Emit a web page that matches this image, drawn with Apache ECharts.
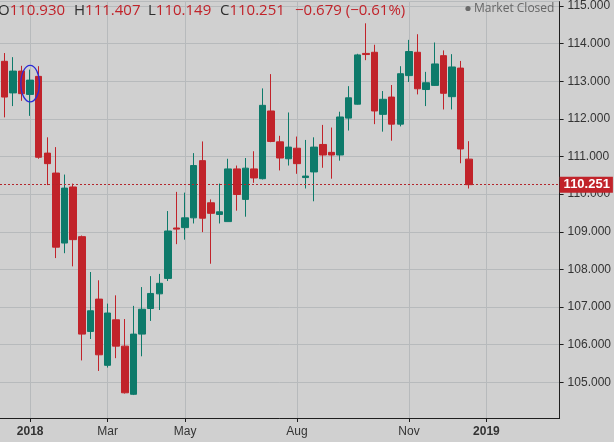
<!DOCTYPE html>
<html>
<head>
<meta charset="utf-8">
<title>USD/JPY weekly 2018</title>
<script src="https://cdn.jsdelivr.net/npm/echarts@6/dist/echarts.min.js"></script>
<style>
  html, body { margin: 0; padding: 0; background: #d0d0d0; }
  #chart { width: 614px; height: 442px; }
</style>
</head>
<body>
<div id="chart"></div>
<script>
// weekly bars, week start dates (Mon), a few empty weeks on the right
const firstWeek = Date.UTC(2017, 11, 11);
const weekCount = 65;
const weeks = [];
for (let k = 0; k < weekCount; k++) {
  weeks.push(new Date(firstWeek + k * 7 * 864e5).toISOString().slice(0, 10));
}

// OHLC, one entry per week from 2017-12-11
const opens = [
  113.53, 112.69, 113.27, 112.65, 113.13, 111.09, 110.56, 108.70, 110.19, 108.87,
  106.35, 107.21, 105.45, 106.66, 105.96, 104.68, 106.28, 106.96, 107.35, 107.76,
  109.10, 109.11, 109.37, 110.89, 109.77, 109.46, 109.27, 110.67, 109.86, 110.67,
  110.41, 112.21, 111.39, 110.94, 111.22, 110.44, 110.59, 111.32, 111.11, 111.04,
  112.02, 112.39, 113.74, 113.77, 112.12, 112.58, 111.86, 113.15, 113.77, 112.78,
  112.89, 113.68, 112.59, 113.35, 110.930
];
const closes = [
  112.58, 113.27, 112.67, 113.03, 110.98, 110.81, 108.59, 110.16, 108.79, 106.28,
  106.90, 105.73, 106.84, 105.96, 104.72, 106.28, 106.94, 107.36, 107.63, 109.02,
  109.07, 109.37, 110.76, 109.36, 109.49, 109.53, 110.67, 109.99, 110.69, 110.43,
  112.36, 111.40, 110.96, 111.25, 110.81, 110.48, 111.25, 111.04, 111.04, 112.05,
  112.56, 113.70, 113.71, 112.21, 112.52, 111.86, 113.20, 113.79, 112.80, 112.96,
  113.46, 112.68, 113.38, 111.20, 110.251
];
const lows = [
  112.04, 112.34, 112.48, 112.08, 110.94, 110.24, 108.30, 108.43, 108.08, 105.58,
  106.15, 105.30, 105.39, 105.64, 104.70, 104.66, 105.69, 106.63, 106.92, 107.69,
  108.67, 108.79, 109.22, 108.99, 108.15, 109.22, 109.27, 109.56, 109.40, 110.30,
  110.39, 111.38, 110.63, 110.76, 110.54, 110.15, 109.81, 110.70, 110.41, 110.89,
  111.69, 112.38, 113.56, 111.86, 111.66, 111.42, 111.80, 112.98, 112.65, 112.34,
  112.88, 112.25, 112.25, 110.82, 110.149
];
const highs = [
  113.75, 113.64, 113.41, 113.31, 113.40, 111.51, 111.25, 110.52, 110.28, 108.90,
  107.93, 107.71, 107.09, 107.31, 106.68, 107.03, 107.53, 107.82, 107.88, 109.55,
  110.06, 110.04, 111.09, 111.40, 109.86, 110.28, 110.94, 110.76, 110.96, 111.14,
  112.81, 113.19, 111.55, 112.17, 111.53, 111.44, 111.51, 111.84, 111.77, 112.19,
  112.87, 113.73, 114.54, 113.97, 112.74, 112.90, 113.40, 114.10, 114.25, 113.25,
  114.03, 113.82, 113.72, 113.54, 111.407
];

const lastPrice = 110.251;
const tickLabels = {
  '2018-01-01': '{y|2018}', '2018-03-05': 'Mar', '2018-05-07': 'May',
  '2018-08-06': 'Aug', '2018-11-05': 'Nov', '2019-01-07': '{y|2019}'
};
const header = [
  { k: 'O', v: '110.930' }, { k: 'H', v: '111.407' },
  { k: 'L', v: '110.149' }, { k: 'C', v: '110.251' },
  { k: '', v: '\u22120.679 (\u22120.61%)' }
];
const headerX = [-2, 74, 148, 220, 295];
// blue ring drawn round the first 2018 bar
const ring = { week: '2018-01-01', top: 113.42, bottom: 112.45, halfWidth: 9.3 };

const RED = '#c1232a', GREEN = '#0d7a6a', TEXT = '#333';
const FONT = '"Liberation Sans", Arial, sans-serif';

const bars = opens.map((o, i) => [o, closes[i], lows[i], highs[i]]);
const onTick = (idx, val) => tickLabels[val] !== undefined;

const chart = echarts.init(document.getElementById('chart'));

chart.setOption({
  animation: false,
  backgroundColor: '#d0d0d0',
  grid: { left: 0, right: 52, top: -2, bottom: 24 },
  xAxis: {
    type: 'category',
    data: weeks,
    boundaryGap: true,
    axisLine: { lineStyle: { color: '#1e1e1e', width: 1 } },
    axisTick: { show: true, alignWithLabel: true, interval: onTick, length: 4,
      lineStyle: { color: '#1e1e1e' } },
    axisLabel: {
      interval: onTick, margin: 8, color: TEXT, fontSize: 12, fontFamily: FONT,
      formatter: v => tickLabels[v] || '',
      rich: { y: { fontWeight: 'bold', fontSize: 12, color: TEXT, fontFamily: FONT } }
    },
    splitLine: { show: true, alignWithLabel: true, interval: onTick,
      lineStyle: { color: '#b7babc', width: 1 } }
  },
  yAxis: {
    type: 'value',
    position: 'right',
    min: 104.05,
    max: 115.117,
    splitNumber: 11,
    scale: true,
    axisLine: { show: true, lineStyle: { color: '#1e1e1e', width: 1 } },
    axisTick: { show: true, length: 4, lineStyle: { color: '#1e1e1e' } },
    axisLabel: { margin: 8, color: TEXT, fontSize: 12, fontFamily: FONT,
      showMinLabel: false, showMaxLabel: false,
      formatter: v => v.toFixed(3) },
    splitLine: { show: true, lineStyle: { color: '#b7babc', width: 1 } }
  },
  series: [{
    type: 'candlestick',
    data: bars,
    barWidth: 7,
    itemStyle: {
      color: GREEN, color0: RED,
      borderColor: GREEN, borderColor0: RED,
      borderWidth: 1
    },
    markLine: {
      silent: true,
      symbol: ['none', 'none'],
      data: [{ yAxis: lastPrice }],
      lineStyle: { color: '#b3262c', type: [2, 2], width: 1 },
      label: {
        position: 'end', distance: 0,
        formatter: () => lastPrice.toFixed(3),
        color: '#fff', fontWeight: 'bold', fontSize: 13, fontFamily: FONT,
        backgroundColor: RED, padding: [2, 3, 1, 4]
      }
    }
  }]
});

// header, status text and the ring annotation
const headerEls = header.map((h, i) => ({
  type: 'text', id: 'hdr' + i, x: headerX[i], y: 11,
  style: {
    text: (h.k ? '{k|' + h.k + '}' : '') + '{v|' + h.v + '}',
    verticalAlign: 'middle',
    rich: {
      k: { fill: '#2e2e2e', fontSize: 15, fontFamily: '"Open Sans", sans-serif' },
      v: { fill: RED, fontSize: 15, fontFamily: '"Open Sans", sans-serif' }
    }
  }
}));

const c = chart.convertToPixel({ seriesIndex: 0 }, [ring.week, (ring.top + ring.bottom) / 2]);
const t = chart.convertToPixel({ seriesIndex: 0 }, [ring.week, ring.top]);

chart.setOption({
  graphic: headerEls.concat([
    { type: 'circle', id: 'dot', shape: { cx: 468, cy: 8.5, r: 2.6 },
      style: { fill: '#6a6a6a' } },
    { type: 'text', id: 'mkt', x: 474, y: 8.5,
      style: { text: 'Market Closed', fill: '#666', fontSize: 12,
        fontFamily: '"Open Sans", sans-serif', verticalAlign: 'middle' } },
    { type: 'ellipse', id: 'ring', z: 100,
      shape: { cx: c[0], cy: c[1], rx: ring.halfWidth, ry: c[1] - t[1] },
      style: { fill: 'none', stroke: '#2b2bd6', lineWidth: 1.3 } }
  ])
});
</script>
</body>
</html>
